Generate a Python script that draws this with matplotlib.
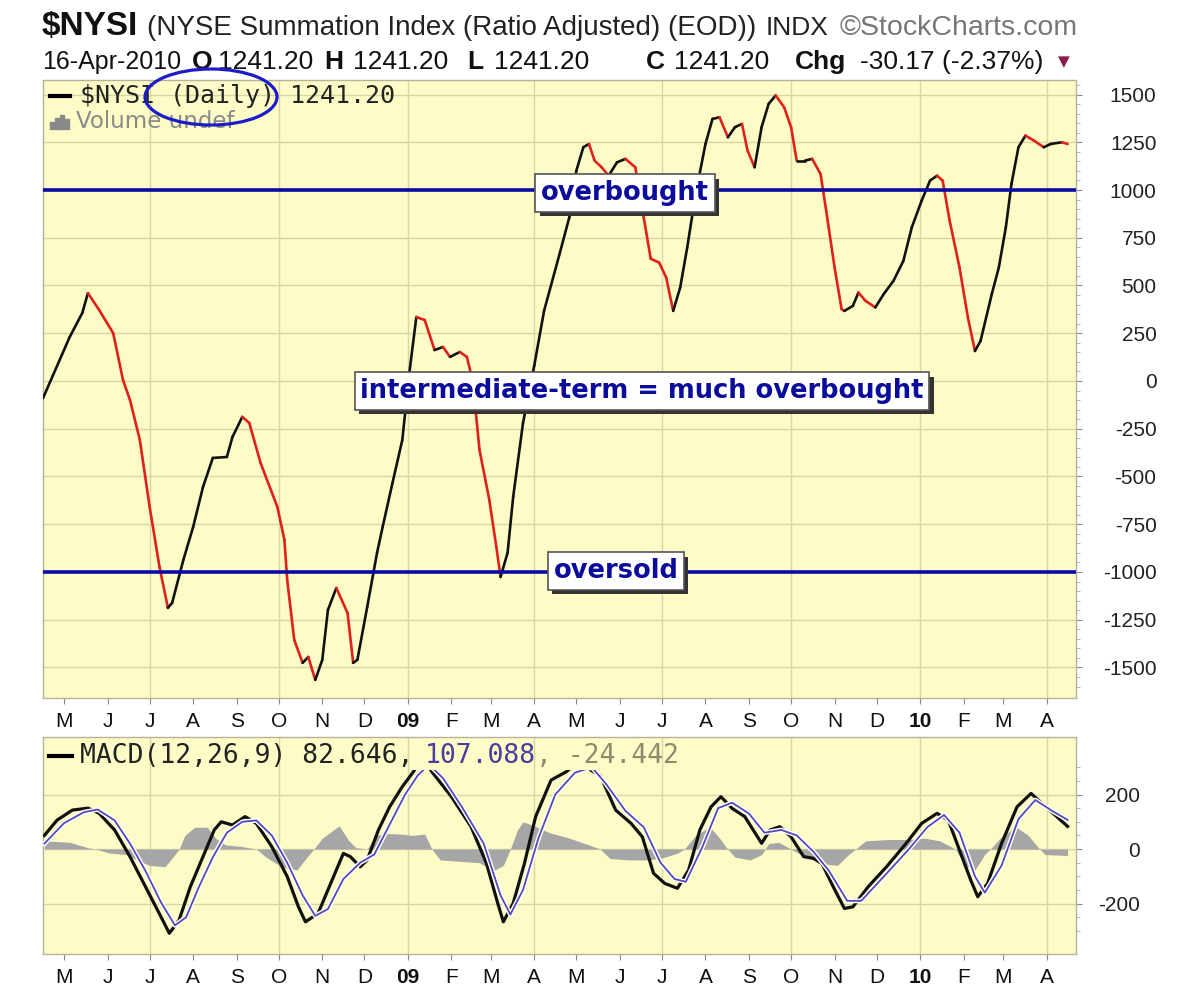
import numpy as np
import matplotlib.pyplot as plt
import matplotlib.dates as mdates
from matplotlib.collections import LineCollection
from matplotlib.patches import Ellipse, Rectangle
import matplotlib.patheffects as pe

plt.rcParams['font.family'] = ['Liberation Sans', 'DejaVu Sans']

W, H = 1200, 997

# $NYSI summation index
nysi_dates = ['2008-04-16', '2008-05-05', '2008-05-14', '2008-05-18', '2008-05-26', '2008-06-05', '2008-06-12',
              '2008-06-17', '2008-06-24', '2008-07-01', '2008-07-08', '2008-07-14', '2008-07-17', '2008-07-25',
              '2008-08-01', '2008-08-08', '2008-08-15', '2008-08-25', '2008-08-29', '2008-09-05', '2008-09-10',
              '2008-09-18', '2008-09-30', '2008-10-05', '2008-10-07', '2008-10-12', '2008-10-18', '2008-10-22',
              '2008-10-27', '2008-11-01', '2008-11-05', '2008-11-11', '2008-11-19', '2008-11-23', '2008-11-26',
              '2008-12-03', '2008-12-10', '2008-12-14', '2008-12-21', '2008-12-28', '2009-01-02', '2009-01-07',
              '2009-01-13', '2009-01-20', '2009-01-26', '2009-01-31', '2009-02-07', '2009-02-12', '2009-02-16',
              '2009-02-18', '2009-02-21', '2009-02-28', '2009-03-05', '2009-03-08', '2009-03-13', '2009-03-17',
              '2009-03-24', '2009-04-01', '2009-04-08', '2009-04-19', '2009-04-26', '2009-05-01', '2009-05-06',
              '2009-05-10', '2009-05-14', '2009-05-19', '2009-05-24', '2009-05-30', '2009-06-05', '2009-06-12',
              '2009-06-18', '2009-06-23', '2009-06-29', '2009-07-04', '2009-07-09', '2009-07-14', '2009-07-19',
              '2009-07-25', '2009-08-01', '2009-08-06', '2009-08-11', '2009-08-17', '2009-08-22', '2009-08-27',
              '2009-08-31', '2009-09-05', '2009-09-10', '2009-09-15', '2009-09-20', '2009-09-26', '2009-10-01',
              '2009-10-05', '2009-10-11', '2009-10-16', '2009-10-22', '2009-10-26', '2009-11-01', '2009-11-06',
              '2009-11-08', '2009-11-14', '2009-11-18', '2009-11-23', '2009-11-30', '2009-12-06', '2009-12-13',
              '2009-12-20', '2009-12-26', '2010-01-02', '2010-01-08', '2010-01-13', '2010-01-17', '2010-01-22',
              '2010-01-29', '2010-02-04', '2010-02-09', '2010-02-13', '2010-02-21', '2010-02-26', '2010-03-03',
              '2010-03-07', '2010-03-12', '2010-03-17', '2010-03-23', '2010-03-30', '2010-04-04', '2010-04-12',
              '2010-04-16']
nysi_vals = [-90, 230, 356, 460, 372, 251, 5, -100, -309, -660,
             -974, -1188, -1162, -937, -764, -555, -403, -398, -293, -188,
             -220, -429, -660, -832, -1042, -1356, -1476, -1445, -1565, -1460,
             -1199, -1084, -1215, -1476, -1460, -1183, -900, -764, -534, -309,
             42, 335, 319, 162, 178, 126, 152, 126, 5, -136,
             -361, -623, -869, -1026, -900, -607, -220, 80, 367, 664,
             857, 1101, 1224, 1241, 1154, 1119, 1075, 1145, 1163, 1119,
             857, 640, 620, 542, 367, 490, 699, 979, 1241, 1372,
             1381, 1276, 1329, 1346, 1206, 1119, 1329, 1451, 1495, 1434,
             1329, 1154, 1154, 1163, 1084, 892, 594, 376, 367, 393,
             463, 420, 385, 455, 525, 629, 804, 944, 1049, 1075,
             1049, 839, 594, 332, 157, 210, 455, 594, 804, 1031,
             1224, 1285, 1259, 1224, 1241, 1250, 1241]

# MACD(12,26,9) line
macd_dates = ['2008-04-17', '2008-04-26', '2008-05-07', '2008-05-18', '2008-05-26', '2008-06-06', '2008-06-17',
              '2008-06-28', '2008-07-09', '2008-07-15', '2008-07-22', '2008-07-30', '2008-08-08', '2008-08-16',
              '2008-08-21', '2008-08-29', '2008-09-07', '2008-09-15', '2008-09-26', '2008-10-07', '2008-10-15',
              '2008-10-20', '2008-10-29', '2008-11-06', '2008-11-16', '2008-11-21', '2008-11-28', '2008-12-03',
              '2008-12-11', '2008-12-19', '2008-12-28', '2009-01-05', '2009-01-11', '2009-01-18', '2009-02-01',
              '2009-02-15', '2009-02-26', '2009-03-06', '2009-03-10', '2009-03-17', '2009-03-25', '2009-04-02',
              '2009-04-13', '2009-04-24', '2009-05-02', '2009-05-13', '2009-05-18', '2009-05-29', '2009-06-09',
              '2009-06-17', '2009-06-25', '2009-07-03', '2009-07-12', '2009-07-20', '2009-07-28', '2009-08-05',
              '2009-08-12', '2009-08-20', '2009-08-29', '2009-09-10', '2009-09-16', '2009-09-23', '2009-10-01',
              '2009-10-10', '2009-10-17', '2009-10-23', '2009-10-31', '2009-11-08', '2009-11-14', '2009-11-25',
              '2009-12-08', '2009-12-22', '2010-01-02', '2010-01-13', '2010-01-21', '2010-01-29', '2010-02-06',
              '2010-02-11', '2010-02-18', '2010-02-28', '2010-03-11', '2010-03-21', '2010-03-30', '2010-04-07',
              '2010-04-16']
macd_vals = [50, 106, 143, 150, 131, 70, -28, -138, -248, -309,
             -260, -138, -28, 70, 100, 88, 119, 94, 9, -101,
             -212, -267, -236, -138, -16, -28, -65, -40, 70, 155,
             229, 284, 340, 284, 192, 82, -53, -199, -267, -199,
             -53, 119, 253, 284, 320, 284, 270, 143, 94, 45,
             -89, -126, -144, -77, 70, 155, 192, 149, 119, 21,
             70, 82, 45, -28, -34, -53, -138, -218, -212, -138,
             -65, 21, 94, 131, 106, -4, -114, -175, -126, 21,
             155, 204, 161, 125, 83]

# signal line
sig_dates = ['2008-04-17', '2008-05-01', '2008-05-15', '2008-05-25', '2008-06-06', '2008-06-17', '2008-06-28',
             '2008-07-09', '2008-07-19', '2008-07-27', '2008-08-05', '2008-08-15', '2008-08-25', '2008-09-05',
             '2008-09-15', '2008-09-26', '2008-10-07', '2008-10-18', '2008-10-27', '2008-11-05', '2008-11-16',
             '2008-11-28', '2008-12-08', '2008-12-19', '2008-12-30', '2009-01-08', '2009-01-16', '2009-01-26',
             '2009-02-09', '2009-02-24', '2009-03-08', '2009-03-15', '2009-03-24', '2009-04-04', '2009-04-16',
             '2009-04-30', '2009-05-12', '2009-05-22', '2009-06-05', '2009-06-18', '2009-06-30', '2009-07-10',
             '2009-07-18', '2009-07-30', '2009-08-10', '2009-08-20', '2009-09-01', '2009-09-12', '2009-09-24',
             '2009-10-05', '2009-10-17', '2009-10-28', '2009-11-10', '2009-11-20', '2009-12-08', '2009-12-24',
             '2010-01-06', '2010-01-18', '2010-01-29', '2010-02-09', '2010-02-16', '2010-02-28', '2010-03-12',
             '2010-03-24', '2010-04-05', '2010-04-16']
sig_vals = [20, 95, 135, 145, 105, 20, -80, -195, -280, -250,
            -140, -30, 60, 100, 105, 50, -50, -170, -245, -220,
            -110, -50, -20, 90, 200, 270, 310, 260, 150, 20,
            -170, -240, -150, 40, 200, 280, 300, 240, 140, 80,
            -50, -110, -120, 10, 150, 170, 130, 60, 70, 50,
            -10, -80, -190, -190, -90, 0, 80, 125, 60, -100,
            -160, -60, 110, 180, 140, 107]

# histogram (MACD - signal)
hist_dates = ['2008-04-17', '2008-05-05', '2008-05-18', '2008-05-23', '2008-06-03', '2008-06-14', '2008-06-24',
              '2008-07-01', '2008-07-12', '2008-07-19', '2008-07-22', '2008-07-26', '2008-08-02', '2008-08-11',
              '2008-08-17', '2008-08-24', '2008-09-04', '2008-09-15', '2008-09-22', '2008-10-03', '2008-10-14',
              '2008-10-21', '2008-10-26', '2008-11-01', '2008-11-13', '2008-11-20', '2008-11-25', '2008-12-03',
              '2008-12-09', '2008-12-17', '2008-12-27', '2009-01-04', '2009-01-13', '2009-01-18', '2009-01-24',
              '2009-02-07', '2009-02-21', '2009-03-03', '2009-03-10', '2009-03-15', '2009-03-20', '2009-03-24',
              '2009-04-01', '2009-04-12', '2009-04-26', '2009-05-10', '2009-05-18', '2009-05-25', '2009-06-08',
              '2009-06-22', '2009-07-03', '2009-07-12', '2009-07-17', '2009-07-25', '2009-08-04', '2009-08-11',
              '2009-08-16', '2009-08-22', '2009-09-02', '2009-09-10', '2009-09-15', '2009-09-22', '2009-10-01',
              '2009-10-11', '2009-10-25', '2009-11-03', '2009-11-11', '2009-11-16', '2009-11-23', '2009-12-10',
              '2009-12-25', '2010-01-04', '2010-01-15', '2010-01-26', '2010-02-02', '2010-02-09', '2010-02-16',
              '2010-02-20', '2010-02-27', '2010-03-10', '2010-03-19', '2010-03-27', '2010-03-31', '2010-04-16']
hist_vals = [30, 25, 5, 0, -15, -20, -45, -60, -65, -20,
             0, 50, 80, 80, 40, 15, 10, 0, -30, -65,
             -77, -30, 0, 40, 85, 30, 5, 0, 50, 57,
             55, 50, 55, 0, -40, -45, -50, -80, -60, 0,
             70, 100, 85, 60, 40, 15, 0, -35, -40, -40,
             -30, -15, 0, 50, 82, 40, 5, -30, -40, -20,
             20, 25, 0, -30, -55, -60, -20, 0, 30, 35,
             35, 40, 30, 0, -60, -77, -20, 0, 40, 82,
             50, 0, -20, -24]

x_start, x_end = '2008-04-16', '2010-04-22'
main_ticks = [-1500, -1250, -1000, -750, -500, -250, 0, 250, 500, 750, 1000, 1250, 1500]
macd_ticks = [-200, 0, 200]
overbought, oversold = 1000, -1000

BG = '#fdfcc6'
GRID = '#d9d6a6'


def todays(lst):
    return mdates.date2num(np.array(lst, dtype='datetime64[D]'))


def fpos(x, y):
    return x / W, 1 - y / H


fig = plt.figure(figsize=(W / 100, H / 100), dpi=100)
ax = fig.add_axes([43 / W, 1 - 698 / H, (1076 - 43) / W, (698 - 80) / H])
ax2 = fig.add_axes([43 / W, 1 - 954 / H, (1076 - 43) / W, (954 - 737) / H])

months = np.arange(np.datetime64('2008-05'), np.datetime64('2010-05'), np.timedelta64(1, 'M'))
month_num = todays(months.astype('datetime64[D]'))
month_lbl = [str(m)[2:4] if str(m)[5:7] == '01' else
             'JFMAMJJASOND'[int(str(m)[5:7]) - 1] for m in months]
quarters = [n for n, m in zip(month_num, months) if str(m)[5:7] in ('01', '04', '07', '10')]

for a, ticks in ((ax, main_ticks), (ax2, macd_ticks)):
    a.set_facecolor(BG)
    a.set_xlim(todays([x_start])[0], todays([x_end])[0])
    for q in quarters:
        a.axvline(q, color=GRID, lw=1, zorder=0)
    for t in ticks:
        a.axhline(t, color=GRID, lw=1, zorder=0)
    a.set_xticks(month_num)
    a.set_xticklabels(month_lbl)
    for lbl, m in zip(a.get_xticklabels(), months):
        if str(m)[5:7] == '01':
            lbl.set_fontweight('bold')
    a.tick_params(axis='x', length=4, color='#888888', labelsize=15, pad=6, labelcolor='#111111')
    a.yaxis.tick_right()
    a.set_yticks(ticks)
    a.set_yticks(np.arange(ticks[0] - 100, ticks[-1] + 101, 50), minor=True)
    a.tick_params(axis='y', which='minor', length=3, color='#aaaaaa')
    for s in a.spines.values():
        s.set_color('#b5b39a')
        s.set_linewidth(1)

# main panel
ax.set_ylim(-1660, 1576)
ax.set_yticklabels([str(t) for t in main_ticks])
ax.tick_params(axis='y', which='major', length=4, color='#888888', labelsize=15, pad=54, labelcolor='#222222')
for lbl in ax.get_yticklabels():
    lbl.set_horizontalalignment('right')

xn = todays(nysi_dates)
yv = np.array(nysi_vals, dtype=float)
pts = np.column_stack([xn, yv]).reshape(-1, 1, 2)
segs = np.concatenate([pts[:-1], pts[1:]], axis=1)
cols = ['#111111' if d >= 0 else '#e0201a' for d in np.diff(yv)]
lc = LineCollection(segs, colors=cols, linewidths=1.9, capstyle='round', joinstyle='round', zorder=3)
ax.add_collection(lc)

ax.axhline(overbought, color='#0a0aa8', lw=2.6, zorder=4)
ax.axhline(oversold, color='#0a0aa8', lw=2.6, zorder=4)

# legend inside main panel
fig.add_artist(plt.Line2D([50 / W, 70 / W], [1 - 96 / H, 1 - 96 / H], color='black', lw=3,
                          transform=fig.transFigure))
fig.text(*fpos(80, 96), '$NYSI (Daily) 1241.20', family='DejaVu Sans Mono', fontsize=18,
         va='center', ha='left', color='#222222')
for i, hgt in enumerate([7, 11, 14, 10]):
    fig.add_artist(Rectangle(((50 + i * 5) / W, 1 - 129 / H), 4 / W, hgt / H,
                             transform=fig.transFigure, color='#888888'))
fig.text(*fpos(76, 121), 'Volume undef', family='DejaVu Sans', fontsize=16.5,
         va='center', ha='left', color='#8a8a8a')
fig.add_artist(Ellipse(fpos(211, 97), 132 / W, 56 / H, angle=0, transform=fig.transFigure,
                       fill=False, edgecolor='#1c1cc8', lw=2.3, zorder=10))


def note(x, y, s):
    t = fig.text(x / W, 1 - y / H, s, color='#0c0c9c', zorder=9, fontsize=18.5, fontweight='bold',
                 family='DejaVu Sans', ha='center', va='center',
                 bbox=dict(boxstyle='square,pad=0.22', fc='white', ec='#555555', lw=1.2))
    t.get_bbox_patch().set_path_effects([pe.withSimplePatchShadow(offset=(3, -3), shadow_rgbFace='#333333',
                                                                  alpha=1.0)])


note(625, 193, 'overbought')
note(642, 391, 'intermediate-term = much overbought')
note(616, 571, 'oversold')

# MACD panel
ax2.set_ylim(-385, 411)
ax2.set_yticklabels([str(t) for t in macd_ticks])
ax2.tick_params(axis='y', which='major', length=4, color='#888888', labelsize=15, pad=42, labelcolor='#222222')
for lbl in ax2.get_yticklabels():
    lbl.set_horizontalalignment('right')

hx = todays(hist_dates)
ax2.fill_between(hx, 0, hist_vals, color='#a6a6a6', lw=0, zorder=2)
clip = Rectangle((todays([x_start])[0], -400), 800, 690, transform=ax2.transData)
ln1, = ax2.plot(todays(macd_dates), macd_vals, color='#111111', lw=2.3, zorder=4)
ln2, = ax2.plot(todays(sig_dates), sig_vals, color='#5548b8', lw=1.3, zorder=5,
                path_effects=[pe.Stroke(linewidth=3.4, foreground='white'), pe.Normal()])
ln1.set_clip_path(clip)
ln2.set_clip_path(clip)

fig.add_artist(plt.Line2D([49 / W, 72 / W], [1 - 756 / H, 1 - 756 / H], color='black', lw=3,
                          transform=fig.transFigure))
mono = dict(family='DejaVu Sans Mono', fontsize=19, va='center', ha='left')
t1 = fig.text(*fpos(80, 756), 'MACD(12,26,9) 82.646,', color='#222222', **mono)
fig.canvas.draw()
r = fig.canvas.get_renderer()
bb = t1.get_window_extent(r)
t2 = fig.text((bb.x1 + 11) / W, 1 - 756 / H, '107.088', color='#4a3ca0', **mono)
bb2 = t2.get_window_extent(r)
fig.text(bb2.x1 / W, 1 - 756 / H, ', -24.442', color='#8c8c6c', **mono)

# header
fig.text(*fpos(42, 27), '$NYSI', fontsize=24, fontweight='bold', va='center', color='#111111')
fig.text(*fpos(147, 28), '(NYSE Summation Index (Ratio Adjusted) (EOD))', fontsize=20, va='center',
         color='#222222')
fig.text(*fpos(766, 28), 'INDX', fontsize=19, va='center', color='#222222')
fig.text(*fpos(840, 28), '©StockCharts.com', fontsize=20.5, va='center', color='#777777')

hdr = [(42, '16-Apr-2010', 'normal'), (192, 'O', 'bold'), (218, '1241.20', 'normal'),
       (324, 'H', 'bold'), (353, '1241.20', 'normal'), (467, 'L', 'bold'), (494, '1241.20', 'normal'),
       (646, 'C', 'bold'), (674, '1241.20', 'normal'), (795, 'Chg', 'bold'),
       (860, '-30.17 (-2.37%)', 'normal')]
for x, s, w in hdr:
    fig.text(*fpos(x, 62), s, fontsize=18 if x == 42 else 19, fontweight=w, va='center', color='#111111')
fig.text(*fpos(1058, 62), '▼', family='DejaVu Sans', fontsize=11, va='center', color='#8c1c4c')

fig.savefig('out.png', dpi=100, facecolor='white')
